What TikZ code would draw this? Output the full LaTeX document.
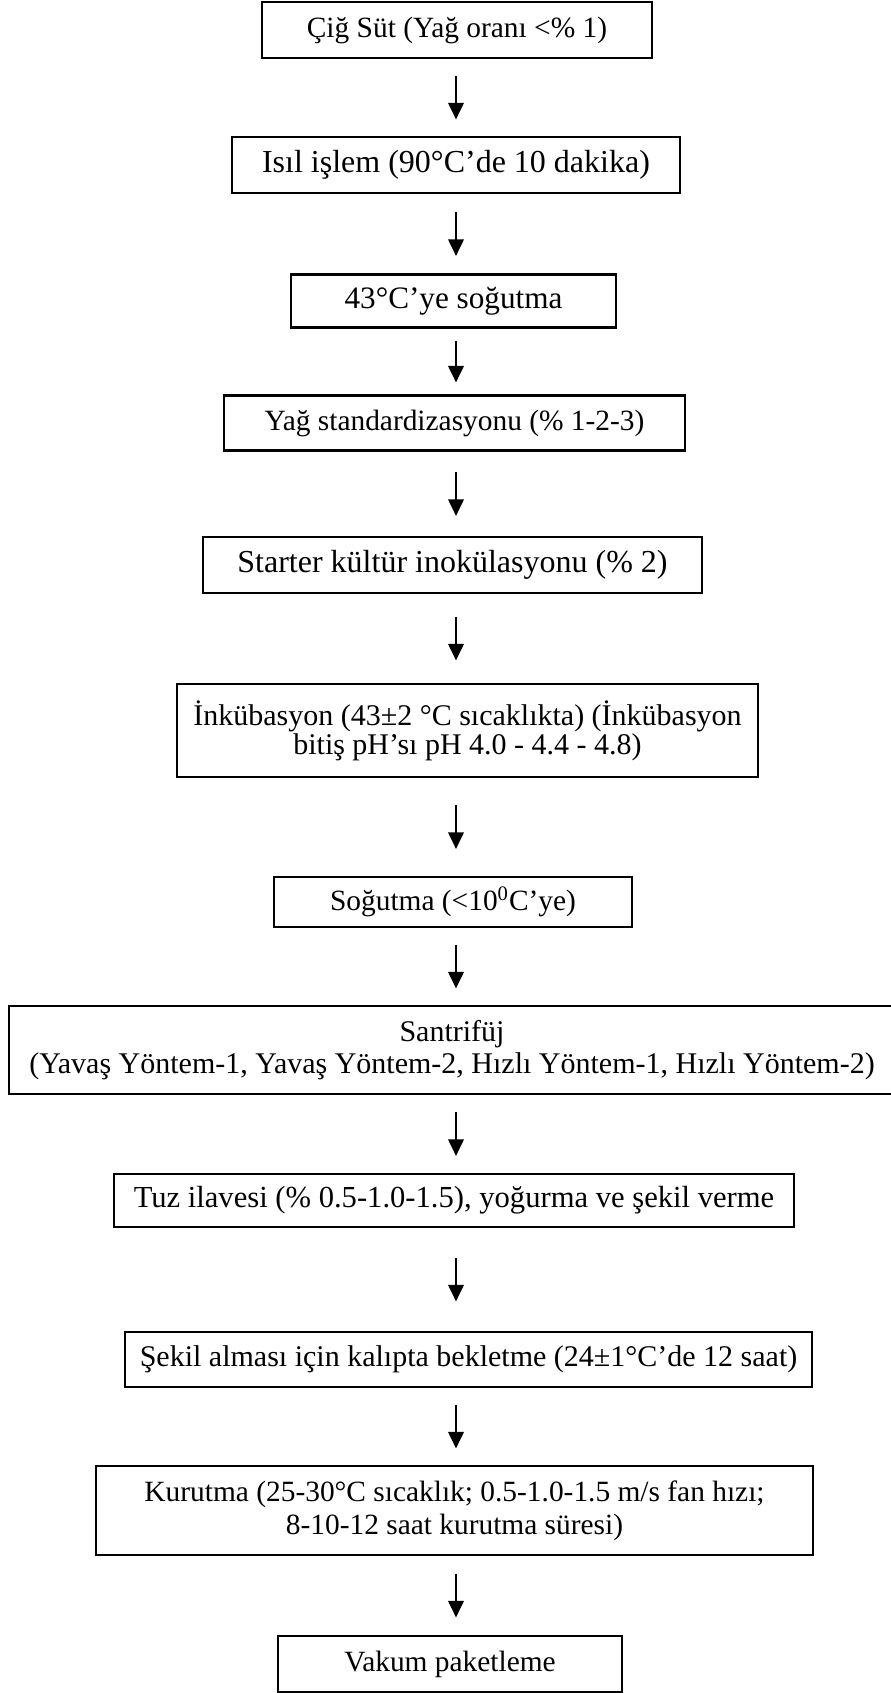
\documentclass[tikz,border=0pt]{standalone}
\usepackage{fontspec}
\setmainfont{Liberation Serif}
\usepackage{tikz}
\usetikzlibrary{arrows.meta}

\tikzset{
  stepbox/.style={draw, line width=1.1pt, inner sep=0pt, align=center},
  flow/.style={-{Triangle[length=8.3pt,width=7.8pt]}, line width=1pt,
    shorten <=#1, shorten >=#1},
  fbig/.style={font=\fontsize{16}{18}\selectfont},
  fmid/.style={font=\fontsize{15}{16}\selectfont},
  fsmall/.style={font=\fontsize{14.7}{16.7}\selectfont}
}

\begin{document}
\begin{tikzpicture}[x=0.5pt,y=-0.5pt]
\useasboundingbox (0,0) rectangle (890,1693);
\coordinate (ax) at (456,0);
% draws boxes
\node[stepbox, fsmall, minimum width=195pt, minimum height=28pt] (b1) at (457,30) {Çiğ Süt (Yağ oranı <\% 1)};
\node[stepbox, fbig, minimum width=224pt, minimum height=28pt] (b2) at (456,165) {Isıl işlem (90°C’de 10 dakika)};
\node[stepbox, font=\fontsize{15.6}{17}\selectfont, minimum width=162.5pt, minimum height=26.5pt] (b3) at (453.5,301) {43°C’ye soğutma};
\node[stepbox, fsmall, minimum width=230.5pt, minimum height=27.5pt] (b4) at (454.5,423) {Yağ standardizasyonu (\% 1-2-3)};
\node[stepbox, fbig, minimum width=249.5pt, minimum height=28pt] (b5) at (452.5,565) {Starter kültür inokülasyonu (\% 2)};
\node[stepbox, font=\fontsize{15}{14.6}\selectfont, minimum width=290.5pt, minimum height=46.5pt] (b6) at (467.5,730.5) {İnkübasyon (43±2 °C sıcaklıkta) (İnkübasyon\\bitiş pH’sı pH 4.0 - 4.4 - 4.8)};
\node[stepbox, fsmall, minimum width=179pt, minimum height=25pt] (b7) at (453,902) {Soğutma (<10\textsuperscript{0}C’ye)};
\node[stepbox, fmid, minimum width=443pt, minimum height=44pt] (b8) at (452,1050) {Santrifüj\\(Yavaş Yöntem-1, Yavaş Yöntem-2, Hızlı Yöntem-1, Hızlı Yöntem-2)};
\node[stepbox, font=\fontsize{15.3}{16}\selectfont, minimum width=340pt, minimum height=26.5pt] (b9) at (454,1200.5) {Tuz ilavesi (\% 0.5-1.0-1.5), yoğurma ve şekil verme};
\node[stepbox, fmid, minimum width=343.5pt, minimum height=27.5pt] (b10) at (468.5,1359.5) {Şekil alması için kalıpta bekletme (24±1°C’de 12 saat)};
\node[stepbox, fsmall, minimum width=358.5pt, minimum height=44.5pt] (b11) at (454.5,1510.5) {Kurutma (25-30°C sıcaklık; 0.5-1.0-1.5 m/s fan hızı;\\8-10-12 saat kurutma süresi)};
\node[stepbox, fsmall, minimum width=172pt, minimum height=28pt] (b12) at (450,1664) {Vakum paketleme};
% draws arrows
\draw[flow=8.25pt] (b1.south -| ax) -- (b2.north -| ax);
\draw[flow=8.75pt] (b2.south -| ax) -- (b3.north -| ax);
\draw[flow=6pt] (b3.south -| ax) -- (b4.north -| ax);
\draw[flow=10pt] (b4.south -| ax) -- (b5.north -| ax);
\draw[flow=11.25pt] (b5.south -| ax) -- (b6.north -| ax);
\draw[flow=13.5pt] (b6.south -| ax) -- (b7.north -| ax);
\draw[flow=8.25pt] (b7.south -| ax) -- (b8.north -| ax);
\draw[flow=8.5pt] (b8.south -| ax) -- (b9.north -| ax);
\draw[flow=14.75pt] (b9.south -| ax) -- (b10.north -| ax);
\draw[flow=8.25pt] (b10.south -| ax) -- (b11.north -| ax);
\draw[flow=8.75pt] (b11.south -| ax) -- (b12.north -| ax);
\end{tikzpicture}
\end{document}
